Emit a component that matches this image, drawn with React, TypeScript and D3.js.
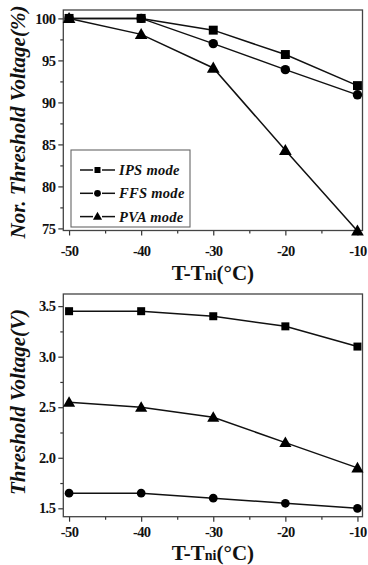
import * as d3 from 'd3';
import { useEffect, useRef } from 'react';

const temps = [-50, -40, -30, -20, -10];

// normalized threshold voltage (%)
const ipsNorm = [100, 100, 98.6, 95.7, 92.0];
const ffsNorm = [100, 100, 97.0, 93.9, 90.9];
const pvaNorm = [100, 98.1, 94.1, 84.3, 74.7];

// threshold voltage (V)
const ipsVth = [3.45, 3.45, 3.4, 3.3, 3.1];
const ffsVth = [1.65, 1.65, 1.6, 1.55, 1.5];
const pvaVth = [2.55, 2.5, 2.4, 2.15, 1.9];

const legendLabels = ['IPS mode', 'FFS mode', 'PVA mode'];

const FONT = "'Liberation Serif', 'Times New Roman', serif";

type Panel = {
  top: number;
  bottom: number;
  yDomain: [number, number];
  yMajor: number[];
  yMinor: number[];
  yFormat: (v: number) => string;
  series: number[][];
  sizes: number[];
  yTitle: string;
  yTitleY: number;
  xLabelPad: number;
  xTitleY: number;
  legend: boolean;
};

const symbols = [d3.symbolSquare, d3.symbolCircle, d3.symbolTriangle];

const App = () => {
  const ref = useRef<SVGSVGElement>(null);

  useEffect(() => {
    const svg = d3.select(ref.current);
    svg.selectAll('*').remove();

    const left = 63.3;
    const right = 362.5;

    const panels: Panel[] = [
      {
        top: 10,
        bottom: 230.5,
        yDomain: [74.75, 101],
        yMajor: d3.range(75, 101, 5),
        yMinor: d3.range(77.5, 100, 5),
        yFormat: (v) => String(v),
        series: [ipsNorm, ffsNorm, pvaNorm],
        sizes: [80, 70, 70],
        yTitle: 'Nor. Threshold Voltage(%)',
        yTitleY: 122,
        xLabelPad: 10.5,
        xTitleY: 280,
        legend: true,
      },
      {
        top: 294,
        bottom: 516.7,
        yDomain: [1.417, 3.62],
        yMajor: [1.5, 2, 2.5, 3, 3.5],
        yMinor: [1.75, 2.25, 2.75, 3.25],
        yFormat: d3.format('.1f'),
        series: [ipsVth, ffsVth, pvaVth],
        sizes: [64, 60, 64],
        yTitle: 'Threshold Voltage(V)',
        yTitleY: 402,
        xLabelPad: 5.5,
        xTitleY: 560,
        legend: false,
      },
    ];

    panels.forEach((p) => {
      const x = d3.scaleLinear().domain([-50.8, -9.3]).range([left, right]);
      const y = d3.scaleLinear().domain(p.yDomain).range([p.bottom, p.top]);
      const g = svg.append('g');

      // minor ticks
      g.append('g')
        .attr('transform', `translate(0,${p.bottom})`)
        .call(d3.axisBottom(x).tickValues([-45, -35, -25, -15]).tickSize(3).tickFormat(() => ''))
        .call((s) => s.select('.domain').remove());
      g.append('g')
        .attr('transform', `translate(${left},0)`)
        .call(d3.axisLeft(y).tickValues(p.yMinor).tickSize(3).tickFormat(() => ''))
        .call((s) => s.select('.domain').remove());

      // major ticks
      const xa = g
        .append('g')
        .attr('transform', `translate(0,${p.bottom})`)
        .call(d3.axisBottom(x).tickValues(temps).tickSize(5).tickPadding(p.xLabelPad).tickFormat((d) => String(d)));
      xa.select('.domain').remove();
      const ya = g
        .append('g')
        .attr('transform', `translate(${left},0)`)
        .call(d3.axisLeft(y).tickValues(p.yMajor).tickSize(5).tickPadding(3).tickFormat((d) => p.yFormat(d as number)));
      ya.select('.domain').remove();

      g.selectAll('.tick line').attr('stroke', '#333').attr('stroke-width', 1.2);
      g.selectAll('.tick text')
        .attr('font-family', FONT)
        .attr('font-weight', 'bold')
        .attr('font-size', 14.5)
        .attr('fill', '#111')
        .attr('letter-spacing', -0.6);

      // frame
      g.append('rect')
        .attr('x', left)
        .attr('y', p.top)
        .attr('width', right - left)
        .attr('height', p.bottom - p.top)
        .attr('fill', 'none')
        .attr('stroke', '#444')
        .attr('stroke-width', 1.3);

      const line = d3
        .line<number>()
        .x((_, i) => x(temps[i]))
        .y((d) => y(d));

      p.series.forEach((vals, si) => {
        g.append('path')
          .attr('d', line(vals))
          .attr('fill', 'none')
          .attr('stroke', '#111')
          .attr('stroke-width', 1.5);
        g.selectAll(null)
          .data(vals)
          .enter()
          .append('path')
          .attr('d', d3.symbol().type(symbols[si]).size(p.sizes[si])())
          .attr('transform', (d, i) => `translate(${x(temps[i])},${y(d) + (si === 2 ? 1 : 0)})`)
          .attr('fill', '#000');
      });

      // y title
      g.append('text')
        .attr('transform', `translate(25,${p.yTitleY}) rotate(-90)`)
        .attr('text-anchor', 'middle')
        .attr('font-family', FONT)
        .attr('font-weight', 'bold')
        .attr('font-style', 'italic')
        .attr('font-size', 21)
        .attr('fill', '#111')
        .text(p.yTitle);

      // x title
      const xt = g
        .append('text')
        .attr('x', (left + right) / 2)
        .attr('y', p.xTitleY)
        .attr('text-anchor', 'middle')
        .attr('font-family', FONT)
        .attr('font-weight', 'bold')
        .attr('font-size', 21)
        .attr('fill', '#111');
      xt.append('tspan').text('T-T');
      xt.append('tspan').attr('font-size', 14).text('ni');
      xt.append('tspan').text('(°C)');

      if (p.legend) {
        const lg = g.append('g');
        lg.append('rect')
          .attr('x', 71)
          .attr('y', 150)
          .attr('width', 119)
          .attr('height', 77)
          .attr('fill', 'none')
          .attr('stroke', '#666')
          .attr('stroke-width', 1.1);
        legendLabels.forEach((lab, i) => {
          const ly = 170 + i * 23.3;
          [
            [80, 93],
            [102, 115],
          ].forEach(([a, b]) =>
            lg.append('line')
              .attr('x1', a)
              .attr('x2', b)
              .attr('y1', ly)
              .attr('y2', ly)
              .attr('stroke', '#111')
              .attr('stroke-width', 1.5)
          );
          lg.append('path')
            .attr('d', d3.symbol().type(symbols[i]).size(36)())
            .attr('transform', `translate(97.5,${ly + (i === 2 ? 0.5 : 0)})`)
            .attr('fill', '#000');
          lg.append('text')
            .attr('x', 119)
            .attr('y', ly + 5)
            .attr('font-family', FONT)
            .attr('font-weight', 'bold')
            .attr('font-style', 'italic')
            .attr('font-size', 14.5)
            .attr('letter-spacing', 0.3)
            .attr('fill', '#111')
            .text(lab);
        });
      }
    });
  }, []);

  return (
    <svg
      ref={ref}
      width={368}
      height={565}
      style={{ position: 'absolute', left: 0, top: 0, background: '#fff' }}
    />
  );
};

export default App;
